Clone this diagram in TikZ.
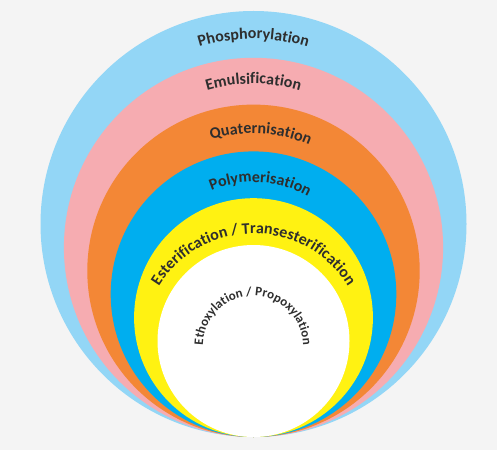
\documentclass[tikz,border=0pt]{standalone}
\usepackage{fontspec}
\newfontfamily\labfont{Carlito}
\usetikzlibrary{decorations.text}
\definecolor{bg}{HTML}{F4F4F4}
\definecolor{ringA}{HTML}{93D6F6}
\definecolor{ringB}{HTML}{F6ACB1}
\definecolor{ringC}{HTML}{F38736}
\definecolor{ringD}{HTML}{00AEEF}
\definecolor{ringE}{HTML}{FFF212}
\definecolor{txt}{HTML}{2E2E2E}
\newcommand{\bigstyle}{\labfont\bfseries\fontsize{16}{19}\selectfont}
\newcommand{\smallstyle}{\labfont\bfseries\fontsize{13}{15}\selectfont}
\begin{document}
\begin{tikzpicture}[x=1pt,y=1pt,
  ring/.style={circle,inner sep=0pt,outer sep=0pt,draw=none,minimum size=#1},
  arclabel/.style={decorate,decoration={text along path,text align=center,text color=txt,text={#1}}}]
\fill[bg] (0,0) rectangle (497,450);
\useasboundingbox (0,0) rectangle (497,450);
\node[ring=426pt,fill=ringA] (r1) at (253.5,226) {};
\node[ring=379.2pt,fill=ringB] (r2) at (253.5,202.6) {};
\node[ring=332.4pt,fill=ringC] (r3) at (253.5,179.2) {};
\node[ring=285.6pt,fill=ringD] (r4) at (253.5,155.8) {};
\node[ring=238.8pt,fill=ringE] (r5) at (253.5,132.4) {};
\node[ring=192pt,fill=white] (r6) at (253.5,109) {};
% labels
\path[arclabel={|\bigstyle|Phosphorylation}] (r1.center) ++(160:185) arc[start angle=160,end angle=20,radius=185];
\path[arclabel={|\bigstyle|Emulsification}] (r2.center) ++(160:163.5) arc[start angle=160,end angle=20,radius=163.5];
\path[arclabel={|\bigstyle|Quaternisation}] (r3.center) ++(157:137.5) arc[start angle=157,end angle=17,radius=137.5];
\path[arclabel={|\bigstyle|Polymerisation}] (r4.center) ++(156.5:112) arc[start angle=156.5,end angle=16.5,radius=112];
\coordinate (tc) at (253.5,105.5);
\path[arclabel={|\bigstyle|Esterification / Transesterification}] (tc) ++(190:111) arc[start angle=190,end angle=-10,radius=111];
\coordinate (ic) at (253,104);
\path[arclabel={|\smallstyle|Ethoxylation / Propoxylation}] (ic) ++(200:50) arc[start angle=200,end angle=-20,radius=50];
\end{tikzpicture}
\end{document}
